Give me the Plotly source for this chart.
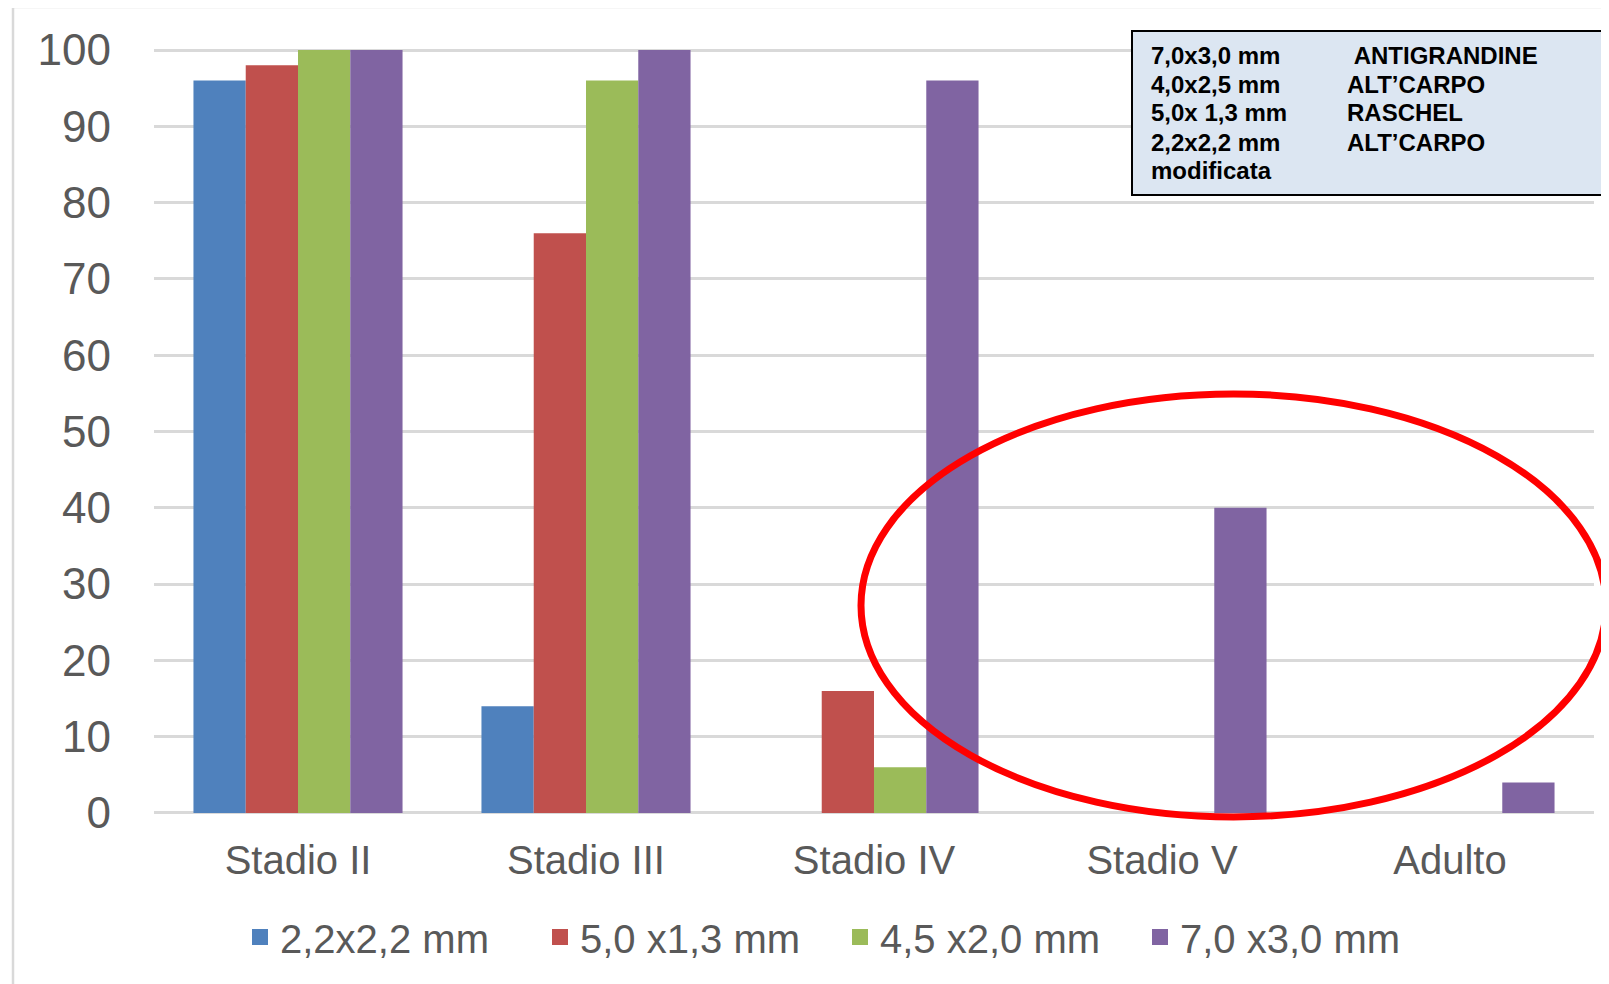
import plotly.graph_objects as go

categories = ["Stadio II", "Stadio III", "Stadio IV", "Stadio V", "Adulto"]
series_names = ["2,2x2,2 mm", "5,0 x1,3 mm", "4,5 x2,0 mm", "7,0 x3,0 mm"]
s_22x22 = [96, 14, 0, 0, 0]
s_50x13 = [98, 76, 16, 0, 0]
s_45x20 = [100, 96, 6, 0, 0]
s_70x30 = [100, 100, 96, 40, 4]
series_values = [s_22x22, s_50x13, s_45x20, s_70x30]
colors = ["#4F81BD", "#C0504D", "#9BBB59", "#8064A2"]
y_ticks = [0, 10, 20, 30, 40, 50, 60, 70, 80, 90, 100]

box_col1 = ["7,0x3,0 mm", "4,0x2,5 mm", "5,0x 1,3 mm", "2,2x2,2 mm", "modificata"]
box_col2 = ["\u00a0ANTIGRANDINE", "ALT\u2019CARPO", "RASCHEL", "ALT\u2019CARPO"]

OFF = 8  # page body margin
W, H = 1609 - OFF, 984 - OFF
# plot area in screen pixels: x 154..1594, y(0)=813, y(100)=50
PX0, PX1 = 154, 1594
y_lo, y_hi = -0.4, 100.4
u = (813 - 50) / 100.0
PY_TOP = 50 - (y_hi - 100) * u
PY_BOT = 813 - y_lo * u
L = PX0 - OFF
R = W - (PX1 - OFF)
T = PY_TOP - OFF
B = H - (PY_BOT - OFF)
pw = PX1 - PX0
ph = PY_BOT - PY_TOP


def px_x(X):
    return (X - PX0) / pw


def px_y(Y):
    return (PY_BOT - Y) / ph


fig = go.Figure()
for name, vals, c in zip(series_names, series_values, colors):
    fig.add_trace(go.Bar(x=categories, y=vals, name=name, showlegend=False,
                         marker=dict(color=c, line=dict(width=0))))
# legend entries (square swatches)
for name, c in zip(series_names, colors):
    fig.add_trace(go.Scatter(x=[None], y=[None], mode="markers", name=name,
                             marker=dict(symbol="square", size=20, color=c),
                             showlegend=True, hoverinfo="skip"))

font = "Liberation Sans, Arial, sans-serif"
fig.update_layout(
    width=W, height=H,
    margin=dict(l=L, r=R, t=T, b=B),
    paper_bgcolor="white", plot_bgcolor="white",
    barmode="group", bargap=0.274, bargroupgap=0,
    font=dict(family=font, color="#595959"),
    showlegend=True,
    legend=dict(orientation="h", x=px_x(240), xanchor="left",
                y=px_y(937), yanchor="middle",
                font=dict(size=40, color="#595959", family=font),
                entrywidth=255, entrywidthmode="pixels",
                traceorder="normal", bgcolor="rgba(0,0,0,0)"),
    xaxis=dict(showgrid=False, showline=False, zeroline=False,
               tickfont=dict(size=40, color="#595959", family=font),
               ticks="", ticklabelstandoff=17),
    yaxis=dict(range=[y_lo, y_hi], tickvals=y_ticks, showgrid=True,
               gridcolor="#D9D9D9", gridwidth=2.5, zeroline=False, showline=False,
               tickfont=dict(size=44, color="#595959", family=font),
               ticks="", ticklabelstandoff=42),
)

shapes = []
shapes.append(dict(type="rect", xref="paper", yref="paper",
                   x0=px_x(13), x1=px_x(1640), y0=px_y(1010), y1=px_y(7),
                   line=dict(color="#D9D9D9", width=2.5), fillcolor="rgba(0,0,0,0)",
                   layer="below"))
shapes.append(dict(type="rect", xref="paper", yref="paper",
                   x0=px_x(1132), x1=px_x(1640), y0=px_y(195), y1=px_y(31),
                   line=dict(color="black", width=2), fillcolor="#DCE6F2",
                   layer="above"))
shapes.append(dict(type="circle", xref="paper", yref="paper",
                   x0=px_x(861), x1=px_x(1606), y0=px_y(817), y1=px_y(394),
                   line=dict(color="#FF0000", width=7), fillcolor="rgba(0,0,0,0)",
                   layer="above"))
fig.update_layout(shapes=shapes)

line_y = [55.4, 84.1, 112.9, 142.6, 170.3]
for i, s in enumerate(box_col1):
    fig.add_annotation(xref="paper", yref="paper", x=px_x(1149), y=px_y(line_y[i]),
                       xanchor="left", yanchor="middle", showarrow=False,
                       text="<b>%s</b>" % s,
                       font=dict(size=24, color="black", family=font))
for i, s in enumerate(box_col2):
    fig.add_annotation(xref="paper", yref="paper", x=px_x(1345), y=px_y(line_y[i]),
                       xanchor="left", yanchor="middle", showarrow=False,
                       text="<b>%s</b>" % s,
                       font=dict(size=24, color="black", family=font))

fig.write_html("out.html")
